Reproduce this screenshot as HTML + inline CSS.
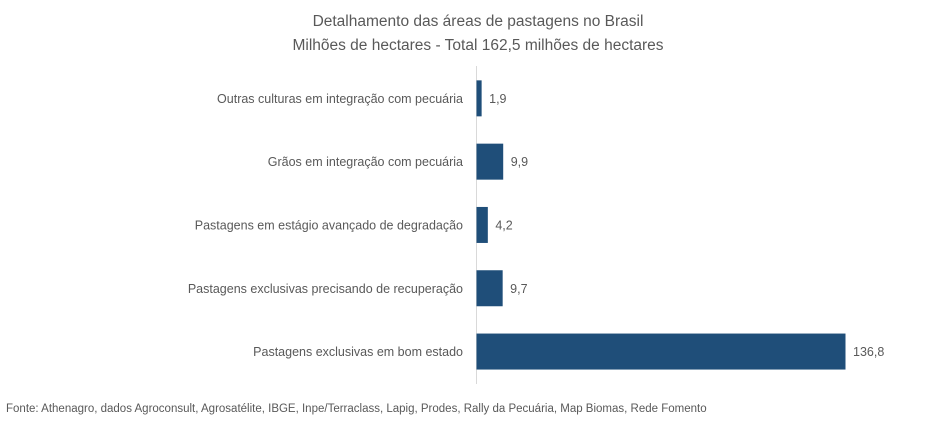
<!DOCTYPE html>
<html><head><meta charset="utf-8"><style>
body{margin:0;background:#fff;width:951px;height:419px;overflow:hidden;font-family:"Liberation Sans",sans-serif}
text{fill:#595959}
</style></head><body>
<svg id="chart" width="951" height="419" xmlns="http://www.w3.org/2000/svg">
<text x="478" y="26" text-anchor="middle" font-size="15.5">Detalhamento das áreas de pastagens no Brasil</text>
<text x="478" y="50" text-anchor="middle" font-size="15.5">Milhões de hectares  - Total 162,5 milhões de hectares</text>
<line x1="476.5" y1="66" x2="476.5" y2="384" stroke="#d9d9d9" stroke-width="1"/>
<g id="bars"></g>
<text x="6" y="412" font-size="11.5">Fonte: Athenagro, dados Agroconsult, Agrosatélite, IBGE, Inpe/Terraclass,  Lapig, Prodes, Rally da Pecuária, Map Biomas, Rede Fomento</text>
</svg>
<script>
const categories=["Outras culturas em integração com pecuária","Grãos em integração com pecuária","Pastagens em estágio avançado de degradação","Pastagens exclusivas precisando de recuperação","Pastagens exclusivas em bom estado"];
const values=[1.9,9.9,4.2,9.7,136.8];
const valueLabels=["1,9","9,9","4,2","9,7","136,8"];
const x0=476, scale=(845-476)/136.8;
const xAxis=v=>x0+v*scale;
const band=63.3, top0=66.7, bh=36;
const yAxis=i=>top0+i*band+(band-bh)/2;
const g=document.getElementById('bars');
const ns="http://www.w3.org/2000/svg";
categories.forEach((c,i)=>{
  const y=yAxis(i);
  const r=document.createElementNS(ns,'rect');
  
  
  r.setAttribute('x',x0+0.5);r.setAttribute('y',y);
  r.setAttribute('width',xAxis(values[i])-x0);r.setAttribute('height',bh);
  r.setAttribute('fill','#1f4e79');
  g.appendChild(r);
  const t=document.createElementNS(ns,'text');
  
  
  t.setAttribute('x',x0-13);t.setAttribute('y',y+bh/2+4.5);
  t.setAttribute('text-anchor','end');t.setAttribute('font-size','12.5');
  t.textContent=c;g.appendChild(t);
  const v=document.createElementNS(ns,'text');
  
  
  v.setAttribute('x',xAxis(values[i])+8);v.setAttribute('y',y+bh/2+4.5);
  v.setAttribute('font-size','12.5');
  v.textContent=valueLabels[i];g.appendChild(v);
});
</script>
</body></html>
